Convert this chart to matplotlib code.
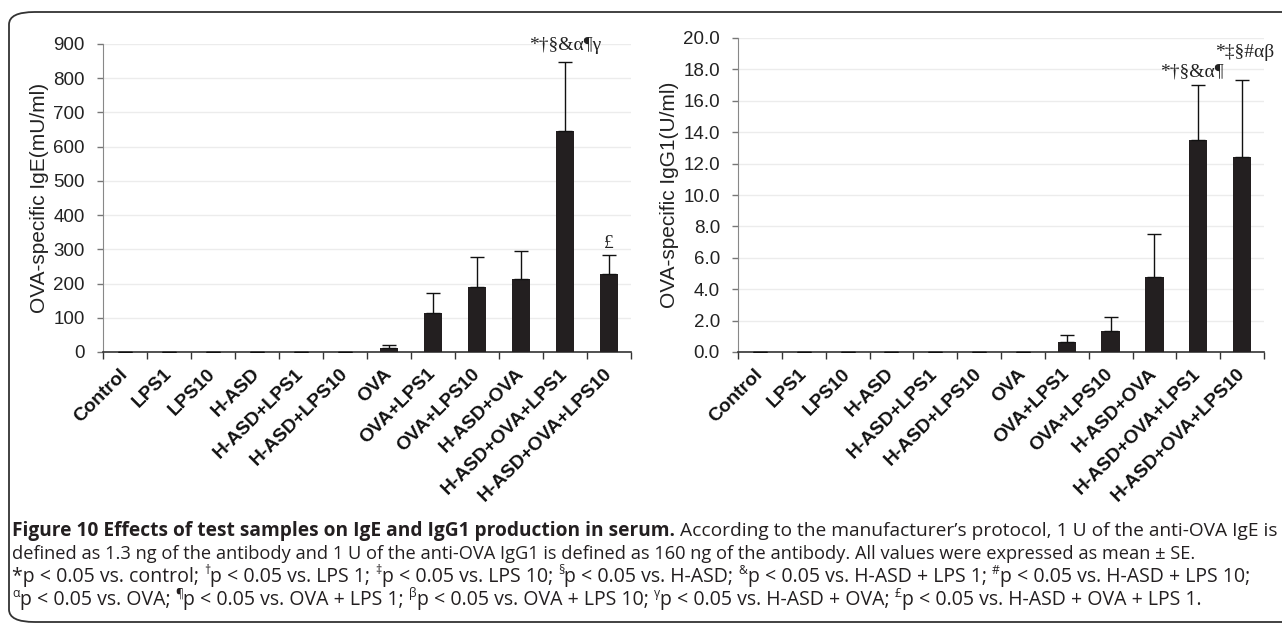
import matplotlib
matplotlib.use("Agg")
import matplotlib.pyplot as plt
from matplotlib import font_manager
from matplotlib.patches import FancyBboxPatch
import numpy as np

# ---------------- data ----------------
categories = ["Control", "LPS1", "LPS10", "H-ASD", "H-ASD+LPS1", "H-ASD+LPS10",
              "OVA", "OVA+LPS1", "OVA+LPS10", "H-ASD+OVA", "H-ASD+OVA+LPS1",
              "H-ASD+OVA+LPS10"]
ige_mean = [0.5, 0.5, 0.5, 0.5, 0.5, 0.5, 12, 113, 190, 213, 645, 228]
ige_err = [0, 0, 0, 0, 0, 0, 8, 58, 87, 82, 202, 54]
igg1_mean = [0.02, 0.02, 0.02, 0.02, 0.02, 0.02, 0.02, 0.65, 1.35, 4.75, 13.5, 12.4]
igg1_err = [0, 0, 0, 0, 0, 0, 0, 0.45, 0.85, 2.75, 3.5, 4.9]

ige_yticks = [0, 100, 200, 300, 400, 500, 600, 700, 800, 900]
igg1_yticks = [0, 2, 4, 6, 8, 10, 12, 14, 16, 18, 20]

# annotations: (bar index, y position in data units, text)
ige_annot = [(10, 897, "*†§&α¶γ"), (11, 318, "£")]
igg1_annot = [(9.85, 17.85, "*†§&α¶"), (11.05, 19.05, "*‡§#αβ")]

# ---------------- fonts ----------------
def have(name):
    try:
        font_manager.findfont(name, fallback_to_default=False)
        return True
    except Exception:
        return False

SANS = "Liberation Sans" if have("Liberation Sans") else "DejaVu Sans"
SERIF = "Liberation Serif" if have("Liberation Serif") else "DejaVu Serif"
CAP = "Open Sans" if have("Open Sans") else SANS

plt.rcParams["font.family"] = [SANS, "DejaVu Sans"]

W, H = 1282, 626
fig = plt.figure(figsize=(W / 100, H / 100), dpi=100)

# outer rounded frame
frame = FancyBboxPatch((9 / W, 4 / H), 1.2, (610) / H,
                       boxstyle="round,pad=0,rounding_size=0.02",
                       transform=fig.transFigure, fill=False,
                       edgecolor="#333333", linewidth=1.3, clip_on=False)
fig.patches.append(frame)

bar_color = "#231f20"

def make_panel(rect, means, errs, yticks, ylim, ylabel, fmt, annots):
    ax = fig.add_axes(rect)
    x = np.arange(len(categories))
    lower = [0] * len(errs)
    ax.bar(x, means, width=0.42, color=bar_color, zorder=3)
    ax.errorbar(x, means, yerr=[lower, errs], fmt="none", ecolor="#111111",
                elinewidth=1.0, capsize=5, capthick=1.0, zorder=4)
    ax.set_xlim(-0.5, len(categories) - 0.5)
    ax.set_ylim(*ylim)
    ax.set_yticks(yticks)
    ax.set_yticklabels([fmt(v) for v in yticks], fontsize=13.5, color="#222222")
    ax.yaxis.grid(True, color="#ececec", linewidth=1.0, zorder=0)
    ax.set_axisbelow(True)
    ax.set_xticks(x)
    ax.set_xticklabels(categories, rotation=45, ha="right", va="center",
                       rotation_mode="anchor", fontsize=13.8, fontweight="bold",
                       color="#111111")
    ax.tick_params(axis="x", which="major", length=0, pad=14)
    ax.set_xticks(np.arange(-0.5, len(categories), 1.0), minor=True)
    ax.tick_params(axis="x", which="minor", length=5, width=1.0, color="#333333",
                   direction="out")
    ax.tick_params(axis="y", length=4, width=1.0, color="#777777", direction="out",
                   pad=9)
    for s in ("top", "right"):
        ax.spines[s].set_visible(False)
    ax.spines["left"].set_color("#888888")
    ax.spines["bottom"].set_color("#333333")
    ax.spines["bottom"].set_linewidth(1.2)
    ax.set_ylabel(ylabel, fontsize=15, color="#222222", labelpad=3)
    for xi, yi, txt in annots:
        ax.text(xi, yi, txt, ha="center", va="center", fontsize=14,
                family=[SERIF, "DejaVu Serif"], color="#222222", clip_on=False)
    return ax

ax1 = make_panel([103 / W, 1 - 352 / H, 528 / W, 308 / H], ige_mean, ige_err,
                 ige_yticks, (0, 900), "OVA-specific IgE(mU/ml)",
                 lambda v: f"{v:d}", ige_annot)
ax2 = make_panel([738 / W, 1 - 352 / H, 526 / W, 314 / H], igg1_mean, igg1_err,
                 igg1_yticks, (0, 20), "OVA-specific IgG1(U/ml)",
                 lambda v: f"{v:.1f}", igg1_annot)

# ---------------- caption ----------------
renderer = fig.canvas.get_renderer()

def text_width(s, size, weight):
    t1 = fig.text(0, 0, "x" + s + "x", fontsize=size, fontweight=weight,
                  family=[CAP, "DejaVu Sans"])
    t2 = fig.text(0, 0, "xx", fontsize=size, fontweight=weight,
                  family=[CAP, "DejaVu Sans"])
    w = t1.get_window_extent(renderer).width - t2.get_window_extent(renderer).width
    t1.remove(); t2.remove()
    return w

def draw_line(segs, x_px, base_px, size, draw=True):
    x = x_px
    for s, kind in segs:
        sz = size * 0.62 if kind == "sup" else size
        wt = "bold" if kind == "bold" else "normal"
        dy = size * 0.55 if kind == "sup" else 0
        if draw:
            fig.text(x / W, 1 - (base_px - dy) / H, s, fontsize=sz, fontweight=wt,
                     family=[CAP, "DejaVu Sans"], va="baseline", ha="left",
                     color="#231f20")
        x += text_width(s, sz, wt)
    return x

line1 = [("Figure 10 Effects of test samples on IgE and IgG1 production in serum.", "bold"),
         (" According to the manufacturer’s protocol, 1 U of the anti-OVA IgE is", "n")]
line2 = [("defined as 1.3 ng of the antibody and 1 U of the anti-OVA IgG1 is defined as 160 ng of the antibody. All values were expressed as mean ± SE.", "n")]
line3 = [("*p < 0.05 vs. control; ", "n"), ("†", "sup"), ("p < 0.05 vs. LPS 1; ", "n"),
         ("‡", "sup"), ("p < 0.05 vs. LPS 10; ", "n"), ("§", "sup"),
         ("p < 0.05 vs. H-ASD; ", "n"), ("&", "sup"), ("p < 0.05 vs. H-ASD + LPS 1; ", "n"),
         ("#", "sup"), ("p < 0.05 vs. H-ASD + LPS 10;", "n")]
line4 = [("α", "sup"), ("p < 0.05 vs. OVA; ", "n"), ("¶", "sup"),
         ("p < 0.05 vs. OVA + LPS 1; ", "n"), ("β", "sup"),
         ("p < 0.05 vs. OVA + LPS 10; ", "n"), ("γ", "sup"),
         ("p < 0.05 vs. H-ASD + OVA; ", "n"), ("£", "sup"),
         ("p < 0.05 vs. H-ASD + OVA + LPS 1.", "n")]

# each caption line is fitted to the width it spans in the reference
x_start = 12
lines = [(line1, 536, 1277), (line2, 559, 1198), (line3, 582, 1247), (line4, 605, 1198)]
base_size = 11.0
for segs, base, x_end in lines:
    end = draw_line(segs, x_start, 0, base_size, draw=False)
    size = base_size * (x_end - x_start) / (end - x_start)
    draw_line(segs, x_start, base, size)

fig.savefig("out.png", dpi=100)
